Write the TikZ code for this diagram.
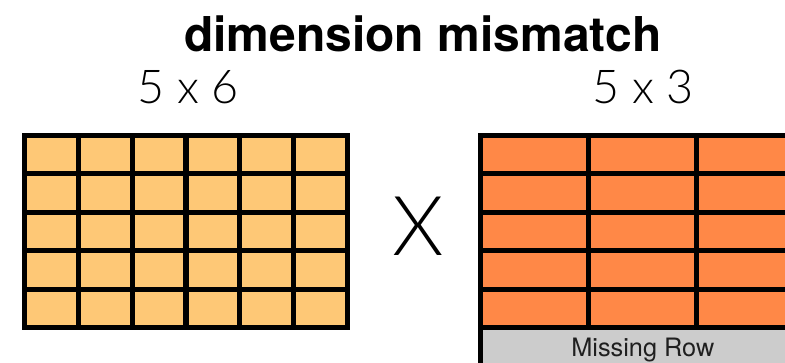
\documentclass[tikz,border=0pt]{standalone}
\usepackage{fontspec}
\setmainfont{TeX Gyre Heros}
\newfontfamily\lightfont{Lato Light}
\definecolor{cellA}{RGB}{254,200,118}
\definecolor{cellB}{RGB}{255,136,71}
\definecolor{missgray}{RGB}{204,204,204}
\tikzset{
  gridline/.style={line width=3.8pt, draw=black},
  dimlabel/.style={anchor=base, inner sep=0pt, font=\lightfont\fontsize{35pt}{40pt}\selectfont},
}
\begin{document}
\begin{tikzpicture}[x=0.75pt,y=-0.75pt]
\useasboundingbox (0,0) rectangle (785,362);
\clip (0,0) rectangle (785,362);
% title
\node[anchor=base, inner sep=0pt, font=\bfseries\fontsize{36pt}{42pt}\selectfont] (title) at (423,51) {dimension mismatch};
% dimension labels
\node[dimlabel] (dimA) at (188,103) {5 x 6};
\node[dimlabel] (dimB) at (643,103) {5 x 3};
% times sign
\node[anchor=base, inner sep=0pt, font=\lightfont\fontsize{62pt}{70pt}\selectfont] (times) at (418.5,255) {X};
% left matrix 5x6
\fill[cellA] (24.5,135.5) rectangle (347.5,327.5);
\foreach \i in {1,...,5} \draw[gridline] (24.5+53.833*\i,135.5) -- (24.5+53.833*\i,327.5);
\foreach \j in {1,...,4} \draw[gridline] (24.5,135.5+38.4*\j) -- (347.5,135.5+38.4*\j);
\draw[gridline] (24.5,135.5) rectangle (347.5,327.5);
% right matrix 5x3 with missing row
\fill[cellB] (480.8,135.5) rectangle (804.8,327.5);
\fill[missgray] (480.8,327.5) rectangle (804.8,365.9);
\foreach \i in {1,2} \draw[gridline] (480.8+108*\i,135.5) -- (480.8+108*\i,327.5);
\foreach \j in {1,...,5} \draw[gridline] (480.8,135.5+38.4*\j) -- (804.8,135.5+38.4*\j);
\draw[gridline] (480.8,135.5) rectangle (804.8,365.9);
\node[anchor=base, inner sep=0pt, font=\fontsize{19pt}{22pt}\selectfont, text=black!88] (missing) at (642.8,356.5) {Missing Row};
\end{tikzpicture}
\end{document}
